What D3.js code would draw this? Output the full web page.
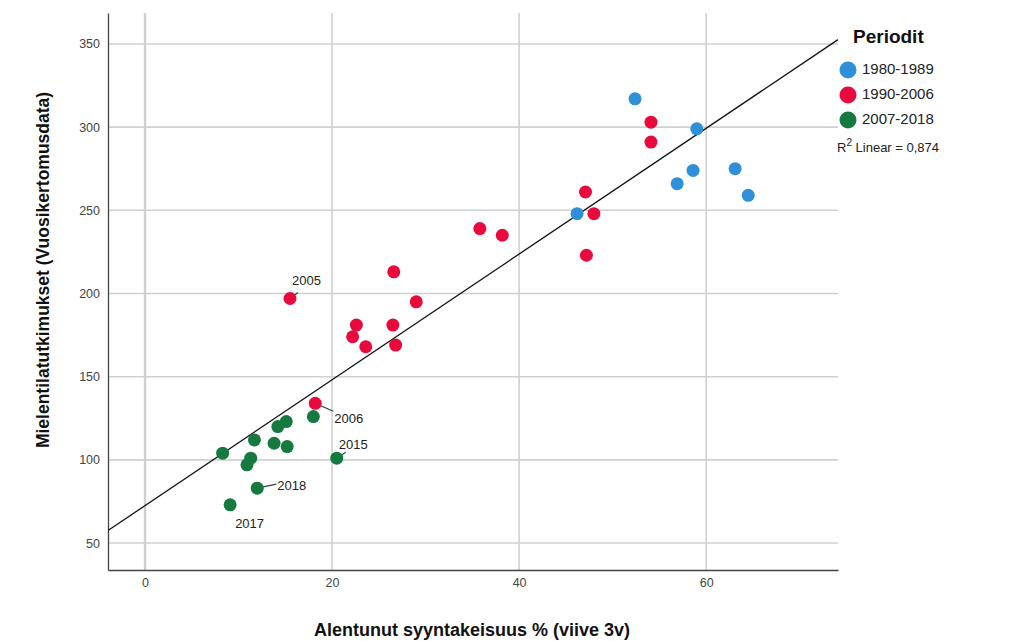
<!DOCTYPE html>
<html>
<head>
<meta charset="utf-8">
<script src="https://cdn.jsdelivr.net/npm/d3@7"></script>
<style>
  body { margin: 0; background: #fff; }
  text { font-family: "Liberation Sans", Arial, sans-serif; }
</style>
</head>
<body>
<div id="chart"></div>
<script>
// Data

// groups / periods
let periods = ["1980-1989", "1990-2006", "2007-2018"];
let periodColors = ["#2f8fd8", "#e80a3c", "#167a40"];

// [x = syyntakeisuus %, y = mielentilatutkimukset]
let pts1980 = [
  [52.4, 317], [59.0, 299], [58.6, 274], [56.9, 266],
  [63.1, 275], [64.5, 259], [46.2, 248]
];
let pts1990 = [
  [54.1, 303], [54.1, 291], [47.1, 261], [48.0, 248], [47.2, 223],
  [35.8, 239], [38.2, 235], [26.6, 213], [29.0, 195], [22.6, 181],
  [26.5, 181], [22.2, 174], [23.6, 168], [26.8, 169],
  [15.5, 197], [18.2, 134]
];
let pts2007 = [
  [18.0, 126], [15.1, 123], [14.2, 120], [11.7, 112], [13.8, 110],
  [15.2, 108], [8.3, 104], [11.3, 101], [10.9, 97],
  [20.5, 101], [12.0, 83], [9.1, 73]
];

// labelled years: [label, x, y] (same as the points above)
let yearLabels = [
  ["2005", 15.5, 197],
  ["2006", 18.2, 134],
  ["2015", 20.5, 101],
  ["2018", 12.0, 83],
  ["2017", 9.1, 73]
];

// linear fit line y = a + b*x
let fitIntercept = 72.5;
let fitSlope = 3.78;
let r2Text = "0,874";

let xTicks = [0, 20, 40, 60];
let yTicks = [50, 100, 150, 200, 250, 300, 350];

////////////////////////////////////////////////////////////////////////
// Layout

let width = 1024, height = 641;
let plotLeft = 108, plotRight = 838, plotTop = 13, plotBottom = 570;

let svg = d3.select("#chart")
  .append("svg")
  .attr("width", width)
  .attr("height", height);

let xScale = d3.scaleLinear().domain([-3.96, 74.1]).range([plotLeft, plotRight]);
let yScale = d3.scaleLinear().domain([33.8, 368.6]).range([plotBottom, plotTop]);

// gridlines
svg.append("g")
  .selectAll("line")
  .data(yTicks)
  .enter()
  .append("line")
  .attr("x1", plotLeft)
  .attr("x2", plotRight)
  .attr("y1", d => yScale(d))
  .attr("y2", d => yScale(d))
  .attr("stroke", "#d0d0d0")
  .attr("stroke-width", 1.6);

svg.append("g")
  .selectAll("line")
  .data(xTicks)
  .enter()
  .append("line")
  .attr("x1", d => xScale(d))
  .attr("x2", d => xScale(d))
  .attr("y1", plotTop)
  .attr("y2", plotBottom)
  .attr("stroke", "#d0d0d0")
  .attr("stroke-width", d => d == 0 ? 2.4 : 1.6);

// axes
let xAxis = d3.axisBottom(xScale).tickValues(xTicks).tickSize(0).tickPadding(8);
let yAxis = d3.axisLeft(yScale).tickValues(yTicks).tickSize(0).tickPadding(8);

let gx = svg.append("g")
  .attr("transform", `translate(0,${plotBottom})`)
  .call(xAxis);
let gy = svg.append("g")
  .attr("transform", `translate(${plotLeft},0)`)
  .call(yAxis);

[gx, gy].forEach(g => {
  g.select(".domain").attr("stroke", "#444").attr("stroke-width", 1.3);
  g.selectAll("text")
    .attr("font-family", "Liberation Sans, Arial, sans-serif")
    .attr("font-size", 12.5)
    .attr("fill", "#444");
});

// fit line, clipped to the plot
svg.append("clipPath")
  .attr("id", "plotClip")
  .append("rect")
  .attr("x", plotLeft)
  .attr("y", plotTop)
  .attr("width", plotRight - plotLeft)
  .attr("height", plotBottom - plotTop);

let xd = xScale.domain();
svg.append("line")
  .attr("clip-path", "url(#plotClip)")
  .attr("x1", xScale(xd[0]))
  .attr("y1", yScale(fitIntercept + fitSlope * xd[0]))
  .attr("x2", xScale(xd[1]))
  .attr("y2", yScale(fitIntercept + fitSlope * xd[1]))
  .attr("stroke", "#111")
  .attr("stroke-width", 1.3);

// label leader lines and labels
let labelOffsets = {
  "2005": { dx: 2, dy: -17, lx: 8, ly: -6 },
  "2006": { dx: 19, dy: 16, lx: 18, ly: 8 },
  "2015": { dx: 2, dy: -13, lx: 9, ly: -6 },
  "2018": { dx: 20, dy: -2, lx: 19, ly: -4 },
  "2017": { dx: 5, dy: 20, lx: 0, ly: 0 }
};

svg.append("g")
  .selectAll("line")
  .data(yearLabels.filter(d => labelOffsets[d[0]].lx != 0))
  .enter()
  .append("line")
  .attr("x1", d => xScale(d[1]))
  .attr("y1", d => yScale(d[2]))
  .attr("x2", d => xScale(d[1]) + labelOffsets[d[0]].lx)
  .attr("y2", d => yScale(d[2]) + labelOffsets[d[0]].ly)
  .attr("stroke", "#1f4a3a")
  .attr("stroke-width", 1.2);

// points
let groups = [pts1980, pts1990, pts2007];
groups.forEach((pts, gi) => {
  svg.append("g")
    .selectAll("circle")
    .data(pts)
    .enter()
    .append("circle")
    .attr("cx", d => xScale(d[0]))
    .attr("cy", d => yScale(d[1]))
    .attr("r", 6.5)
    .attr("fill", periodColors[gi]);
});

svg.append("g")
  .selectAll("text")
  .data(yearLabels)
  .enter()
  .append("text")
  .attr("x", d => xScale(d[1]) + labelOffsets[d[0]].dx)
  .attr("y", d => yScale(d[2]) + labelOffsets[d[0]].dy)
  .attr("dominant-baseline", "middle")
  .attr("font-size", 13)
  .attr("fill", "#222")
  .text(d => d[0]);

// axis titles
svg.append("text")
  .attr("x", 472)
  .attr("y", 631)
  .attr("text-anchor", "middle")
  .attr("dominant-baseline", "middle")
  .attr("font-size", 18)
  .attr("font-weight", "bold")
  .attr("fill", "#111")
  .text("Alentunut syyntakeisuus % (viive 3v)");

svg.append("text")
  .attr("transform", "translate(44,270) rotate(-90)")
  .attr("text-anchor", "middle")
  .attr("dominant-baseline", "middle")
  .attr("font-size", 17.5)
  .attr("font-weight", "bold")
  .attr("fill", "#111")
  .text("Mielentilatutkimukset (Vuosikertomusdata)");

// legend
let legend = svg.append("g");
legend.append("text")
  .attr("x", 853)
  .attr("y", 38)
  .attr("dominant-baseline", "middle")
  .attr("font-size", 19)
  .attr("font-weight", "bold")
  .attr("fill", "#111")
  .text("Periodit");

let items = legend.selectAll("g.item")
  .data(periods)
  .enter()
  .append("g")
  .attr("class", "item")
  .attr("transform", (d, i) => `translate(848,${70 + i * 25})`);

items.append("circle")
  .attr("r", 8.5)
  .attr("fill", (d, i) => periodColors[i]);

items.append("text")
  .attr("x", 14)
  .attr("dominant-baseline", "middle")
  .attr("font-size", 15)
  .attr("fill", "#222")
  .text(d => d);

let r2 = legend.append("text")
  .attr("x", 837)
  .attr("y", 152)
  .attr("font-size", 13)
  .attr("fill", "#222");
r2.append("tspan").text("R");
r2.append("tspan").attr("dy", -6).attr("font-size", 10).text("2");
r2.append("tspan").attr("dy", 6).text(" Linear = " + r2Text);
</script>
</body>
</html>
